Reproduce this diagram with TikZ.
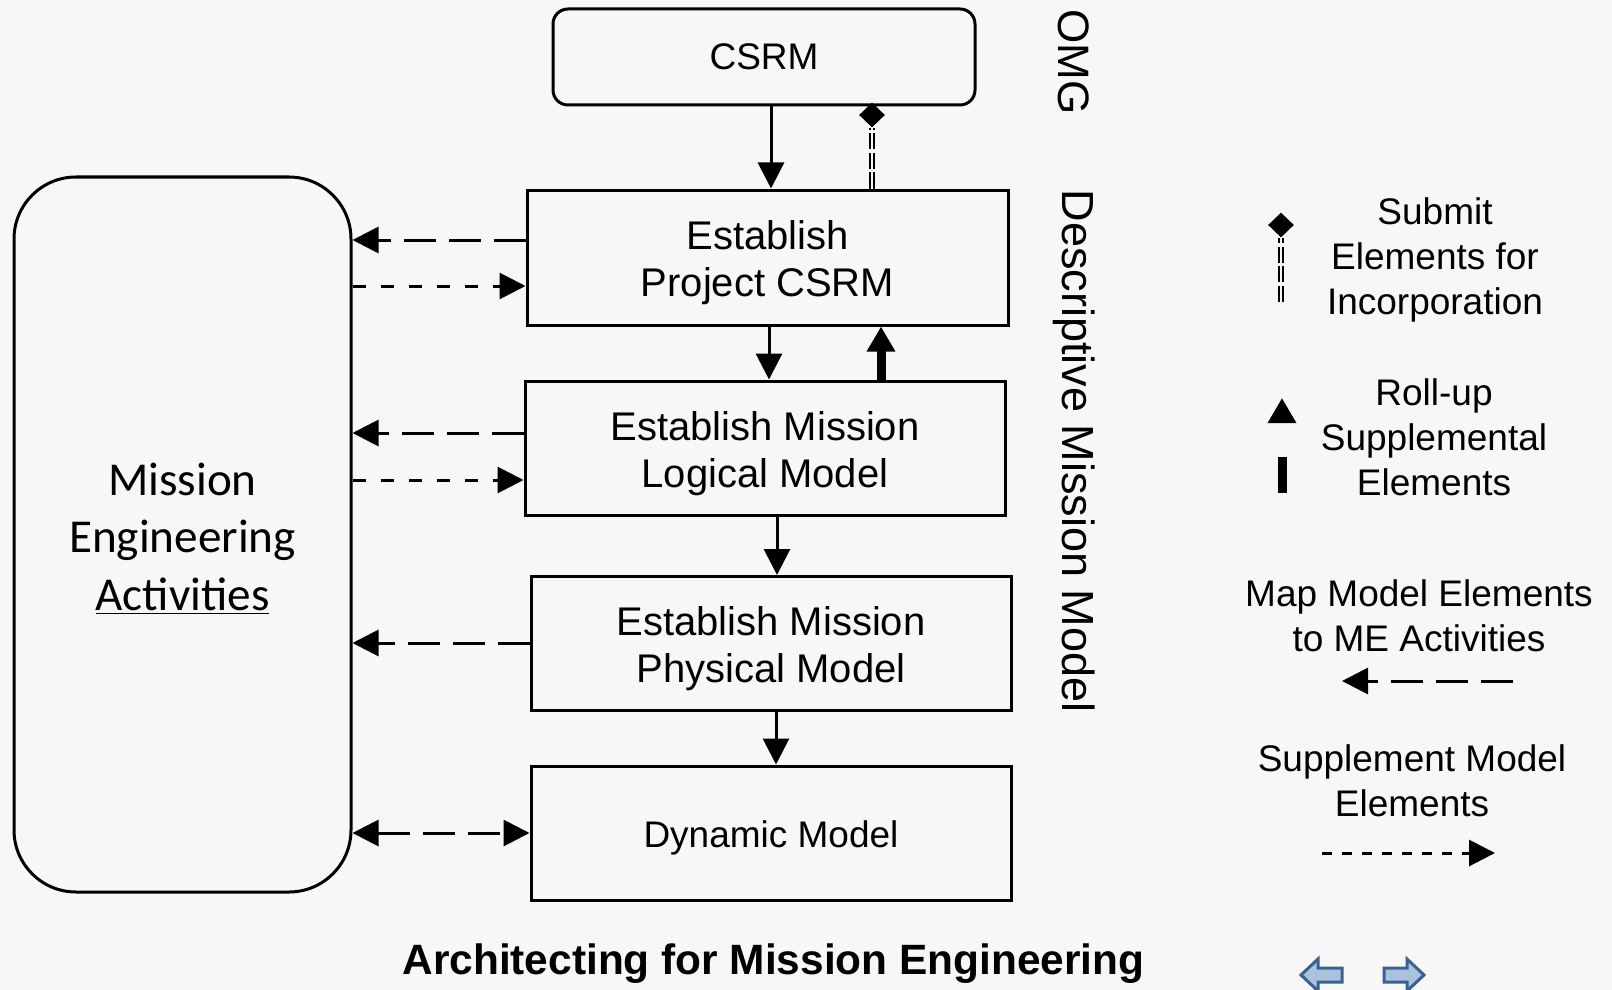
\documentclass[tikz,border=0pt]{standalone}
\usepackage{fontspec}
\setmainfont{Liberation Sans}
\newfontfamily\calfont{Carlito}
\usetikzlibrary{arrows.meta,shapes.geometric}
\definecolor{bg}{HTML}{F7F7F7}
\definecolor{navfill}{HTML}{A9C3DF}
\definecolor{navline}{HTML}{3C6191}
\newcommand{\topstrut}[1]{\rule{0pt}{#1}}

\begin{document}
\begin{tikzpicture}[x=0.5pt, y=-0.5pt, >={Triangle[length=13pt,width=13pt]},
    stage/.style={draw, line width=1.5pt, minimum width=240pt, minimum height=67pt,
      inner sep=0pt, align=center, font=\fontsize{20}{23.5}\selectfont},
    flow/.style={line width=1.5pt, ->},
    rollup/.style={line width=4.5pt, -{Triangle[length=12.5pt,width=13.5pt]}},
    mapto/.style={line width=1.5pt, dash pattern=on 16pt off 6.5pt, ->},
    supply/.style={line width=1.5pt, dash pattern=on 6.5pt off 7.5pt, ->},
    submit/.style={line width=1pt, double=bg, double distance=1.1pt, dash pattern=on 8pt off 1.8pt},
    gem/.style={diamond, fill, inner sep=0pt, minimum width=13pt, minimum height=12.5pt},
    note/.style={align=center, font=\fontsize{18.5}{22.5}\selectfont}]

    \fill[bg] (0,0) rectangle (1612,990);
    \useasboundingbox (0,0) rectangle (1612,990);

    % model stages
    \node[stage, rounded corners=7.5pt, minimum width=211pt, minimum height=48pt,
      font=\fontsize{18.5}{23.5}\selectfont] (csrm) at (764,57) {CSRM};
    \node[stage, minimum width=240.5pt, minimum height=67.5pt] (proj) at (767.5,257.5) {\topstrut{20pt}Establish\\Project CSRM};
    \node[stage] (logi) at (765,448) {\topstrut{20pt}Establish Mission\\Logical Model};
    \node[stage] (phys) at (771,643.5) {\topstrut{20pt}Establish Mission\\Physical Model};
    \node[stage, font=\fontsize{18.5}{23.5}\selectfont] (dyn) at (771,833) {\topstrut{18.2pt}Dynamic Model};

    \node[draw, line width=1.5pt, rounded corners=31pt, minimum width=168.5pt, minimum height=357.5pt,
      align=center, font=\calfont\fontsize{23.6}{28.8}\selectfont] (mea) at (182.5,534.5)
      {\topstrut{20.5pt}Mission\\Engineering\\\underline{Activities}};

    \node[rotate=-90, font=\fontsize{22}{26}\selectfont] (omg) at (1074,62) {OMG};
    \node[rotate=-90, font=\fontsize{22.5}{26}\selectfont] (dmm) at (1074,451) {Descriptive Mission Model};

    % down the stack
    \node[gem] (join) at (872,115) {};
    \draw[submit] (proj.north -| join) -- (join.south);
    \draw[flow] (771,0 |- csrm.south) -- (771,0 |- proj.north);
    \draw[flow] (769,0 |- proj.south) -- (769,0 |- logi.north);
    \draw[rollup] (881,0 |- logi.north) -- (881,0 |- proj.south);
    \draw[flow] (777,0 |- logi.south) -- (777,0 |- phys.north);
    \draw[flow] (776,0 |- phys.south) -- (776,0 |- dyn.north);

    % to and from the activities
    \draw[mapto] (proj.west |- 0,240) -- (mea.east |- 0,240);
    \draw[supply] (mea.east |- 0,286) -- (proj.west |- 0,286);
    \draw[mapto] (logi.west |- 0,433) -- (mea.east |- 0,433);
    \draw[supply] (mea.east |- 0,480) -- (logi.west |- 0,480);
    \draw[mapto] (phys.west |- 0,643) -- (mea.east |- 0,643);
    \draw[mapto, <->] (mea.east |- 0,833) -- (dyn.west |- 0,833);

    % legend
    \node[gem] (lgem) at (1281,225) {};
    \coordinate (lsub) at (1281,302);
    \draw[submit] (lsub) -- (lgem.south);
    \node[note] (lsubt) at (1435,260) {Submit\\Elements for\\Incorporation};

    \coordinate (lrb) at (1282,493);
    \coordinate (lrt) at (1282,398);
    \draw[rollup, dash pattern=on 18pt off 20pt] (lrb) -- (lrt);
    \node[note] (lrut) at (1434,437) {Roll-up\\Supplemental\\Elements};

    \node[note] (lmapt) at (1419,615.5) {Map Model Elements\\to ME Activities};
    \coordinate (lmr) at (1513,681);
    \coordinate (lml) at (1342,681);
    \draw[mapto] (lmr) -- (lml);

    \node[note] (lsupt) at (1412,781) {Supplement Model\\Elements};
    \coordinate (lsl) at (1322,853);
    \coordinate (lsr) at (1495,853);
    \draw[supply, dash pattern=on 5pt off 5pt] (lsl) -- (lsr);

    \node[font=\bfseries\fontsize{21.2}{25}\selectfont] (title) at (773.5,964) {Architecting for Mission Engineering};

    % nav buttons
    \draw[navline, fill=navfill, line width=1.5pt, line join=miter]
      (1301,975) -- (1318,959) -- (1318,968) -- (1342,968) -- (1342,982) -- (1318,982) -- (1318,991) -- cycle;
    \draw[navline, fill=navfill, line width=1.5pt, line join=miter]
      (1424,975) -- (1407,959) -- (1407,968) -- (1384,968) -- (1384,982) -- (1407,982) -- (1407,991) -- cycle;
\end{tikzpicture}
\end{document}
